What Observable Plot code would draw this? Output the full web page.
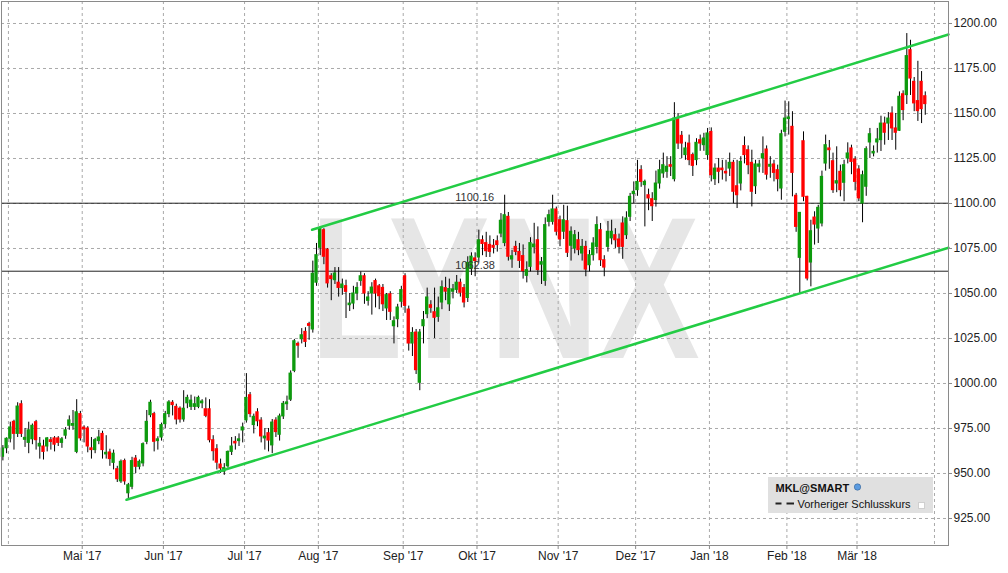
<!DOCTYPE html>
<html><head><meta charset="utf-8">
<script src="https://cdn.jsdelivr.net/npm/d3@7"></script>
<script src="https://cdn.jsdelivr.net/npm/@observablehq/plot@0.6"></script>
<style>html,body{margin:0;padding:0;background:#fff;} #chart{width:1008px;height:573px;overflow:hidden}</style>
</head><body><div id="chart"></div>
<script>
// Daily candles, MKL@SMART, end of March 2017 .. end of March 2018 (trading-day index 0..250)
const openP = [
959.3,964,969.3,978.7,972,988.5,968.7,967,969,978.5,
965,965,965,968.5,969.5,969.5,967,971,976.5,976.5,
962,983,975.5,975,964,963,968,972,960.6,961.7,
955.9,952.4,945.6,956.9,939,942.6,958.3,953.7,955.6,967.6,
982.4,983,968,970,977.4,983,989.3,987,986,980,
989,987,987,987,989,985.7,985.7,968.5,963.5,955,
951,954,962,967.6,968,973.9,979.5,993.5,976.9,984,
979.4,969.5,972.4,965.6,979.4,971.5,981.7,988.5,991,1007,
1022,1024.6,1028.7,1033,1030,1056,1075.4,1085.2,1074.4,1059.6,
1057.4,1056,1053,1054.1,1043.5,1044.4,1050,1057,1059.6,1045.9,
1050,1056.9,1054,1053.1,1041.7,1049.6,1031.8,1035.7,1045.4,1059.6,
1041.1,1022.2,1028.3,1000.4,1031.8,1038.5,1043.5,1039.6,1037,1045,
1053,1044,1051,1052,1056,1053,1047.5,1063.5,1069.5,1070,
1079.6,1078,1077,1076.5,1079,1083.3,1078,1092.6,1068.9,1075.9,
1073.1,1070.8,1059.8,1064.8,1075.7,1079.6,1066,1057,1089.8,1089.8,
1096.7,1090.7,1084.3,1090.2,1076.5,1075,1079.6,1072.2,1075.9,1065.7,
1071.3,1075.9,1085.2,1068.5,1075.9,1080.6,1082.4,1080,1088.9,1082.4,
1092.6,1105.2,1107.4,1118.5,1110.2,1104.6,1102.4,1101.9,1111.1,1116.7,
1117.6,1121.3,1113.5,1146.9,1137.6,1126.9,1133.3,1126.9,1124.1,1135.2,
1132.4,1126.9,1139.8,1113.5,1119.4,1119.4,1117.6,1119.4,1122.6,1109.6,
1111.1,1131.9,1129.6,1122.6,1109.6,1120.4,1125,1130,1120.4,1121.7,
1118.5,1108.3,1139.8,1146.9,1142.6,1104.3,1069.8,1134.6,1103.7,1067.2,
1092.2,1086.1,1088.9,1122.2,1130.6,1123.5,1111.1,1117.6,1111.5,1125,
1130.6,1124.4,1118.9,1100,1109.3,1133.9,1127.8,1133.9,1135.2,1144.4,
1144.4,1150,1141.7,1140.4,1160.7,1160.2,1185.2,1167.6,1156.9,1167.6,
1159.6];
const highP = [
965.5,969.8,978.5,979.6,989.3,990.4,975,978.5,977.5,979.5,
970,968.5,970,970,970.5,970.5,970,975.5,982,985,
991,984.5,976.5,976,970,969.5,974,973.5,971,963.5,
963,954,957.5,958,944.5,959,960,957.5,967,985,
990.7,984,970.4,978,984.5,990.5,990.5,988.5,987,996,
993.5,993.5,992.5,993,991,992,991,971,966,958,
955.5,962.5,970,970.5,972,978,1005.5,995,983,986,
981,975,975,980,981,983,990,993,1007,1024.5,
1023,1030.5,1031,1034,1068,1077.8,1087,1086,1075,1061,
1064.4,1064.4,1058,1057.4,1050,1054,1056,1062,1061,1051,
1056,1058,1055,1055,1050,1051,1037,1044,1054,1061,
1043,1031,1030,1030,1040,1053,1046,1053,1048,1057,
1059,1058,1055,1060,1058,1055,1070.4,1072.6,1072.6,1085.2,
1082,1084,1082,1080,1082,1094.4,1104.6,1095,1074,1079,
1077.8,1077,1067.6,1081,1089,1087,1070,1092,1096.3,1104.6,
1098,1093,1099,1098.5,1087,1085,1084,1080,1079,1074,
1081,1092.6,1088.9,1071,1090,1090.7,1086,1083,1092.6,1095.4,
1105.6,1112,1124,1121,1113,1108,1106,1118,1124,1128,
1126,1126,1156,1150,1140,1134,1138,1128,1136,1138,
1139,1141.7,1142,1122,1125,1124,1124,1128,1124,1124,
1126,1137,1132,1129.6,1124,1124,1137,1132,1126,1124,
1121.3,1140.7,1156.9,1156.5,1151,1105.6,1095,1139.8,1104,1090.7,
1095.4,1099,1118,1138,1135,1128,1131.5,1121.3,1124,1133.7,
1132.4,1126,1121,1118,1131.5,1141.7,1132,1141.7,1148.5,1148,
1150.5,1153.7,1150,1162,1162.6,1194.4,1190.7,1170,1179,1173.3,
1162];
const lowP = [
957,961,967,963,970,970,964.5,961,966,963,
958,957.5,962,963,962,965,964,969,974,974,
961,968,967,961.5,958,961,966,958,958,954,
952,945,944.5,943.5,936,941,950,952,953.7,966,
981,962,963,968,975,981,982,977,978,978.5,
986,985,985,986,986,981,967,956.9,952,950,
949,953,960,963,965,967,978,981,972,976,
967,963,962,961,970,968,980,985,990,1006,
1014,1022,1020,1024,1028,1054,1071,1066,1053,1046,
1055,1048,1049,1036.1,1040,1041,1046,1054,1044,1043,
1038,1042,1041,1040,1035,1035,1022,1031,1042,1039,
1018,1015,1005,996,1022,1036,1039,1025,1034,1041,
1046,1040,1047,1050,1048,1042,1045,1060,1059.3,1067,
1071,1070,1070,1072,1073,1081,1076,1068,1064,1071,
1063.9,1058,1055.9,1062,1072,1060,1055,1054,1087,1088,
1082,1076,1080,1070,1068,1072,1071,1068,1059.3,1062,
1068,1072,1065,1059.3,1073,1077,1075,1072,1069,1080,
1090,1100,1104,1109,1087,1096,1090,1098,1108,1114,
1114,1115,1112,1130,1125,1124,1121,1115,1121,1129,
1129,1124,1112,1110,1111,1113,1112,1115,1100,1097.2,
1107,1122,1116,1098.1,1105,1117,1116.7,1113,1114,1112,
1106.5,1101.8,1137,1138,1103.7,1084,1050,1101,1057,1053.7,
1076.9,1077.8,1087,1118,1119,1105.6,1106,1103.7,1101,1122,
1116,1107,1101,1089.3,1104,1125,1125.9,1128,1128.9,1132.4,
1135,1135,1129.6,1140,1146,1155,1160,1151,1145.6,1144.4,
1149];
const closeP = [
963.9,969.3,975.6,972,987.2,972,969.8,974,976.5,968.5,
966.5,962,969.5,967.5,966,967,969,974,979.5,977.5,
984,969.5,974.5,965,963,968.5,970,963,961.5,958,
961,946.8,956.5,945.6,943.5,956.9,953.7,956.5,966.3,978.7,
989.3,967.6,969,976.9,983,989.5,988,980,980,986,
992,990.5,988.5,992,990,982,968.5,962.4,956,952.8,
953,962,965,966.7,969,975.6,992,983,981.5,979,
970.6,970.5,968.3,978.3,973,981.7,988.7,989.5,1005.5,1023.5,
1021,1026.8,1023.1,1032,1061,1071.3,1086,1070.4,1055.6,1058,
1061.1,1053.1,1055,1050.9,1044.4,1050,1053.1,1059.6,1050,1047.8,
1053.3,1050,1048.5,1044,1049.1,1039.8,1034.6,1042.2,1051.9,1043.1,
1022.2,1028.1,1007.4,1028.3,1035.2,1047.8,1042,1036.5,1041.8,1053.5,
1051,1052.5,1052.3,1056,1050.4,1045,1067,1070.5,1068,1079.6,
1077.5,1073.5,1073.1,1075.4,1076.9,1090.4,1093.5,1070.4,1070.7,1073.1,
1068.1,1062.4,1063,1078,1077.2,1063,1067.4,1088,1093.5,1096.7,
1084.3,1080,1090.7,1072.6,1084.3,1082.4,1074.1,1075.9,1063.3,1071.3,
1077.8,1088,1068.5,1064.4,1084.3,1084.3,1079.6,1075.9,1075.9,1091.7,
1103.7,1106.5,1112,1112,1112,1102.8,1098.5,1111.1,1118.5,1121.3,
1120.4,1120.4,1147.2,1133.3,1133.3,1130.6,1124.1,1120.9,1133.7,1133.3,
1136.1,1138.9,1115.7,1119.4,1117.6,1118.5,1116.7,1122.6,1106.5,1104.6,
1123.1,1126.9,1121.3,1106.5,1121.7,1121.7,1127.4,1116,1121.5,1117,
1113.5,1138.5,1147.2,1147.8,1117,1087,1094.8,1103.7,1058.3,1084.6,
1088.3,1097.6,1114.8,1132.4,1129.6,1107.4,1112.4,1107.4,1121.3,1127.8,
1123.1,1112,1102.8,1115.7,1130.2,1138.5,1128.7,1135.6,1144.4,1139.3,
1147.2,1141.7,1139.3,1159.3,1151.9,1181.9,1169.4,1155.6,1151.3,1152.4,
1155.2];

// first trading day of each month (index into the candle arrays) and its label
const monthIdx = [22, 44, 66, 86, 109, 129, 151, 172, 192, 213, 232];
const monthLabels = ["Mai '17","Jun '17","Jul '17","Aug '17","Sep '17","Okt '17","Nov '17","Dez '17","Jan '18","Feb '18","Mär '18"];
const unlabeledMonthIdx = [2, 253]; // Apr '17, Apr '18
const yTicks = [925, 950, 975, 1000, 1025, 1050, 1075, 1100, 1125, 1150, 1175, 1200];
const levels = [1100.16, 1062.38];
const upperTrend = [[83.8, 1085.4], [256.3, 1193.9]];
const lowerTrend = [[33.5, 935.4], [256.3, 1075.4]];
const symbolName = "MKL@SMART";
const legendLabel = "Vorheriger Schlusskurs";
const watermarkText = "LYNX";

const candles = openP.map((o, i) => ({i, o, h: highP[i], l: lowP[i], c: closeP[i]}));
const GREEN = "#0d9a0d", RED = "#ff0000", TREND = "#22cc44";
const monthPos = monthIdx.map(d => d - 0.5);
const gridPos = [...unlabeledMonthIdx, ...monthIdx].map(d => d - 0.5);
const FONT = "'Liberation Sans', Arial, sans-serif";

function watermark(index, scales) {
  const {x, y} = scales;
  const g = d3.create("svg:g");
  const x0 = x(83.4), x1 = x(189), yb = y(1013.9), yt = y(1094.4);
  g.append("text")
    .attr("x", x0).attr("y", yb)
    .attr("text-anchor", "start")
    .attr("font-family", FONT).attr("font-weight", 700)
    .attr("font-size", (yb - yt) / 0.716)
    .attr("textLength", x1 - x0).attr("lengthAdjust", "spacingAndGlyphs")
    .attr("fill", "#e6e6e6")
    .text(watermarkText);
  return g.node();
}

function legend(index, scales, values, dims) {
  const right = dims.width - dims.marginRight - 15;
  const bottom = dims.height - dims.marginBottom - 32;
  const left = right - 165, top = bottom - 36;
  const g = d3.create("svg:g").attr("font-family", FONT).attr("font-size", 11).attr("text-anchor", "start");
  g.append("rect").attr("x", left).attr("y", top).attr("width", right - left).attr("height", bottom - top).attr("fill", "#e0e0e0");
  g.append("text").attr("x", left + 7.5).attr("y", top + 14.5).attr("font-weight", 700).attr("fill", "#111").text(symbolName);
  g.append("circle").attr("cx", left + 89.5).attr("cy", top + 10).attr("r", 3.2).attr("fill", "#5b9be0").attr("stroke", "#2f5f95").attr("stroke-width", 0.6);
  g.append("line").attr("x1", left + 7.5).attr("x2", left + 13.5).attr("y1", top + 26.5).attr("y2", top + 26.5).attr("stroke", "#222").attr("stroke-width", 2);
  g.append("line").attr("x1", left + 18.5).attr("x2", left + 26).attr("y1", top + 26.5).attr("y2", top + 26.5).attr("stroke", "#222").attr("stroke-width", 2);
  g.append("text").attr("x", left + 29.5).attr("y", top + 30.5).attr("fill", "#111").text(legendLabel);
  g.append("rect").attr("x", left + 150.5).attr("y", top + 25.5).attr("width", 6).attr("height", 6).attr("fill", "#fff").attr("stroke", "#cfcfcf");
  return g.node();
}

const chart = Plot.plot({
  width: 1008, height: 573,
  marginTop: 1, marginBottom: 28, marginLeft: 1, marginRight: 60,
  x: {domain: [-0.38, 256.3], label: null},
  y: {domain: [910, 1212.22], label: null},
  color: {type: "identity"},
  style: {fontFamily: FONT, fontSize: "12px", color: "#222", background: "#fff"},
  marks: [
    watermark,
    Plot.gridY(yTicks, {stroke: "#a9a9a9", strokeOpacity: 1, strokeDasharray: "3,3"}),
    Plot.gridX(gridPos, {stroke: "#a9a9a9", strokeOpacity: 1, strokeDasharray: "3,3"}),
    Plot.ruleY(levels, {stroke: "#222", strokeWidth: 1}),
    Plot.ruleX(candles, {x: "i", y1: "l", y2: "h", stroke: "#000", strokeWidth: 1}),
    Plot.rect(candles, {
      x1: d => d.i - 0.45, x2: d => d.i + 0.45,
      y1: d => Math.min(d.o, d.c), y2: d => Math.max(d.o, d.c),
      fill: d => (d.c >= d.o ? GREEN : RED),
      insetTop: -0.5, insetBottom: -0.5
    }),
    Plot.text(levels, {x: () => 122.6, y: d => d, text: d => d.toFixed(2), textAnchor: "start", lineAnchor: "bottom", dy: -2, fill: "#333", fontSize: 11}),
    Plot.line(upperTrend, {x: d => d[0], y: d => d[1], stroke: TREND, strokeWidth: 2.5}),
    Plot.line(lowerTrend, {x: d => d[0], y: d => d[1], stroke: TREND, strokeWidth: 2.5}),
    Plot.frame({stroke: "#8a8a8a"}),
    Plot.axisY(yTicks, {anchor: "right", tickFormat: d => d.toFixed(2), tickSize: 3, tickPadding: 2, stroke: "#8a8a8a", label: null}),
    Plot.axisX(monthPos, {anchor: "bottom", tickFormat: d => monthLabels[monthPos.indexOf(d)], tickSize: 4, tickPadding: 2, stroke: "#8a8a8a", label: null}),
    legend
  ]
});
document.getElementById("chart").append(chart);
</script>
</body></html>
